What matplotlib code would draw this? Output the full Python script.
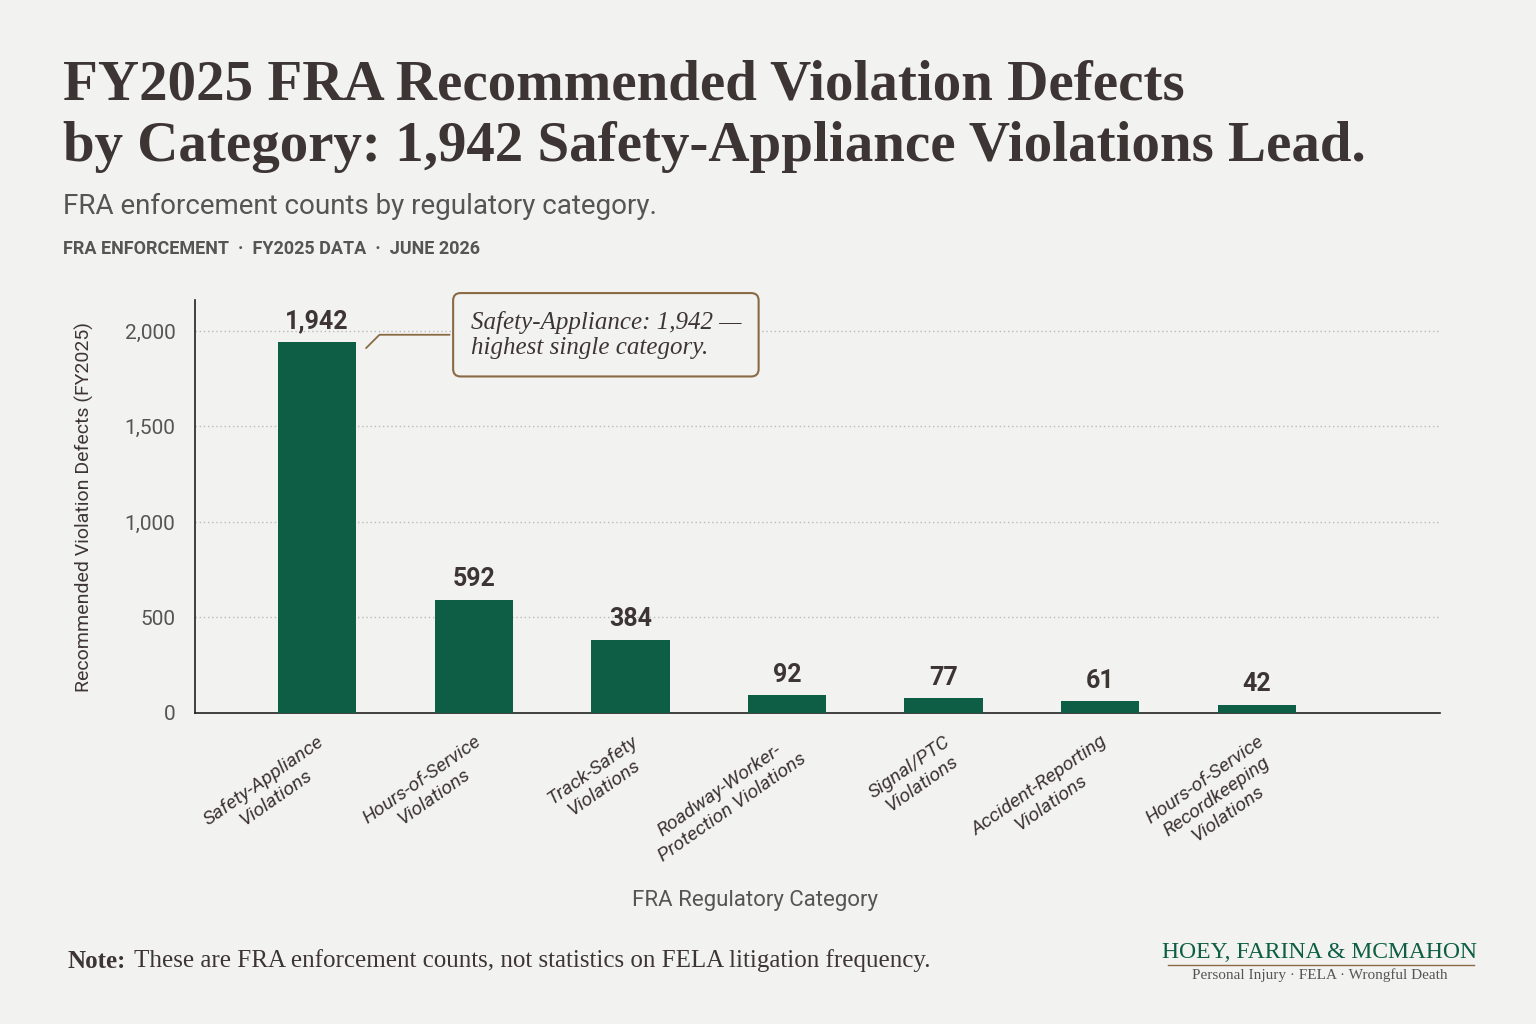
import matplotlib
matplotlib.use("Agg")
import matplotlib.pyplot as plt
import numpy as np

categories = ["Safety-Appliance\nViolations", "Hours-of-Service\nViolations", "Track-Safety\nViolations",
              "Roadway-Worker-\nProtection Violations", "Signal/PTC\nViolations",
              "Accident-Reporting\nViolations", "Hours-of-Service\nRecordkeeping\nViolations"]
values = [1942, 592, 384, 92, 77, 61, 42]
yticks = [0, 500, 1000, 1500, 2000]
ytick_labels = ["0", "500", "1,000", "1,500", "2,000"]

BG = "#f2f2f0"
GREEN = "#0d5e45"
DARK = "#3d3533"
GREY = "#555555"

fig = plt.figure(figsize=(15.36, 10.24), dpi=100, facecolor=BG)
ax = fig.add_axes([195/1536, 1-713/1024, (1440-195)/1536, (713-300)/1024])
ax.set_facecolor(BG)
x = np.arange(len(values))
ax.bar(x, values, width=0.5, color=GREEN, zorder=3)
for xi, v in zip(x, values):
    ax.text(xi, v + 45, f"{v:,}", ha="center", va="bottom", fontsize=18, fontweight="bold",
            color=DARK, family="Roboto")
ax.set_xlim(-0.78, 7.17)
ax.set_ylim(0, 2162)
ax.set_yticks(yticks)
ax.set_yticklabels(ytick_labels, fontsize=15, color=GREY, family="Roboto")
ax.set_xticks(x)
ax.set_xticklabels(categories, rotation=35, ha="right", rotation_mode="anchor", fontsize=14,
                   color=DARK, style="italic", family="Roboto", multialignment="center")
ax.tick_params(axis="y", length=0, pad=14)
ax.tick_params(axis="x", length=0, pad=14)
for t in yticks[1:]:
    ax.axhline(t, color="#bbbbbb", lw=1, ls=(0, (1, 2)), zorder=1)
for s in ["top", "right"]:
    ax.spines[s].set_visible(False)
for s in ["left", "bottom"]:
    ax.spines[s].set_color("#222222")
    ax.spines[s].set_linewidth(1.2)
ax.set_ylabel("Recommended Violation Defects (FY2025)", fontsize=14, color=DARK, labelpad=22,
              family="Roboto")
ax.set_xlabel("FRA Regulatory Category", fontsize=16, color=GREY, family="Roboto")
ax.xaxis.set_label_coords((755-195)/1245, -(890-713)/413)

ax.annotate("Safety-Appliance: 1,942 —\nhighest single category.", xy=(0.3, 1900), xytext=(0.98, 1980),
            fontsize=18, style="italic", family="Liberation Serif", color=DARK, va="center",
            bbox=dict(boxstyle="round,pad=0.7,rounding_size=0.3", fc=BG, ec="#8a6a45", lw=1.5),
            arrowprops=dict(arrowstyle="-", color="#8a6a45", lw=1.3,
                            connectionstyle="angle,angleA=0,angleB=45,rad=0"))

fig.text(63/1536, 1-85/1024, "FY2025 FRA Recommended Violation Defects", fontsize=41,
         family="Liberation Serif", fontweight="bold", color=DARK, va="center")
fig.text(63/1536, 1-147/1024, "by Category: 1,942 Safety-Appliance Violations Lead.", fontsize=41,
         family="Liberation Serif", fontweight="bold", color=DARK, va="center")
fig.text(63/1536, 1-206/1024, "FRA enforcement counts by regulatory category.", fontsize=20,
         color=GREY, va="center", family="Roboto")
fig.text(63/1536, 1-249/1024, "FRA ENFORCEMENT  ·  FY2025 DATA  ·  JUNE 2026", fontsize=13,
         color=GREY, va="center", family="Roboto", fontweight="bold")
fig.text(68/1536, 1-961/1024, "Note:", fontsize=18, family="Liberation Serif", fontweight="bold",
         color=DARK, va="center")
fig.text(134/1536, 1-961/1024, "These are FRA enforcement counts, not statistics on FELA litigation frequency.",
         fontsize=18, family="Liberation Serif", color=DARK, va="center")
fig.text(1320/1536, 1-952/1024, "HOEY, FARINA & MCMAHON", fontsize=17, family="Liberation Serif",
         color=GREEN, ha="center", va="center")
fig.add_artist(plt.Line2D([1168/1536, 1474/1536], [1-965/1024]*2, color="#8a6a45", lw=1))
fig.text(1320/1536, 1-975/1024, "Personal Injury · FELA · Wrongful Death", fontsize=11,
         family="Liberation Serif", color=GREY, ha="center", va="center")
fig.savefig("out.png", dpi=100, facecolor=BG)
